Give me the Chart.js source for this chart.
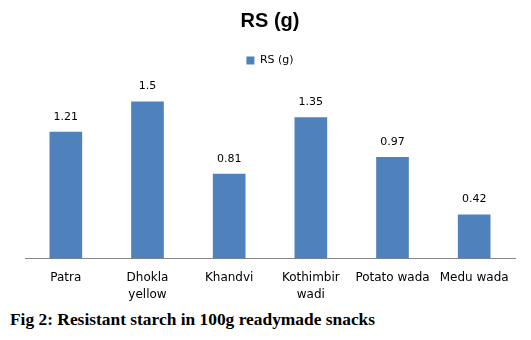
<!DOCTYPE html>
<html>
<head>
<meta charset="utf-8">
<script src="https://cdn.jsdelivr.net/npm/chart.js@4/dist/chart.umd.min.js"></script>
<style>
  body { margin: 0; background: #fff; }
  #wrap { position: relative; width: 531px; height: 340px; }
  #box { position: absolute; left: 0; top: 0; width: 531px; height: 306px; }
  #caption {
    position: absolute; left: 10px; top: 309px;
    font-family: "Liberation Serif", serif; font-weight: bold; font-size: 17.4px; color: #000;
  }
</style>
</head>
<body>
<div id="wrap">
  <div id="box"><canvas id="chart"></canvas></div>
  <div id="caption">Fig 2: Resistant starch in 100g readymade snacks</div>
</div>
<script>
// Categories and values
const categories = [['Patra'], ['Dhokla', 'yellow'], ['Khandvi'], ['Kothimbir', 'wadi'], ['Potato wada'], ['Medu wada']];
const rsValues = [1.21, 1.5, 0.81, 1.35, 0.97, 0.42];
const seriesName = 'RS (g)';

const barColor = '#4F81BD';
const textColor = '#000000';
const fontFamily = '"DejaVu Sans", Verdana, sans-serif';

// Value labels above each bar
const valueLabels = {
  id: 'valueLabels',
  afterDatasetsDraw(chart) {
    const { ctx } = chart;
    const meta = chart.getDatasetMeta(0);
    ctx.save();
    ctx.font = '11px ' + fontFamily;
    ctx.fillStyle = textColor;
    ctx.textAlign = 'center';
    ctx.textBaseline = 'middle';
    meta.data.forEach((bar, i) => {
      ctx.fillText(String(rsValues[i]), bar.x, bar.y - 15);
    });
    ctx.restore();
  }
};

// Extra room under the legend, like the original
const legendGap = {
  id: 'legendGap',
  beforeInit(chart) {
    const fit = chart.legend.fit;
    chart.legend.fit = function() {
      fit.call(this);
      this.height += 15;
    };
  }
};

const ctx = document.getElementById('chart');
new Chart(ctx, {
  type: 'bar',
  data: {
    labels: categories,
    datasets: [
      {
        label: seriesName,
        data: rsValues,
        backgroundColor: barColor,
        borderWidth: 0,
        categoryPercentage: 1,
        barPercentage: 0.4,
      },
    ],
  },
  options: {
    responsive: true,
    maintainAspectRatio: false,
    animation: false,
    layout: {
      padding: { left: 25, right: 16, top: 9, bottom: 0 },
    },
    scales: {
      y: {
        display: false,
        min: 0,
        max: 1.6,
      },
      x: {
        grid: { display: false },
        border: { display: true, color: '#868686', width: 1 },
        ticks: {
          color: textColor,
          font: { family: fontFamily, size: 12, lineHeight: 1.4 },
          maxRotation: 0,
          autoSkip: false,
          padding: 3,
        },
      },
    },
    plugins: {
      title: {
        display: true,
        text: seriesName,
        color: textColor,
        font: { family: '"Liberation Sans", Arial, sans-serif', size: 20, weight: 'bold' },
        padding: { top: 0, bottom: 10 },
      },
      legend: {
        display: true,
        labels: {
          color: textColor,
          font: { family: fontFamily, size: 11 },
          boxWidth: 8,
          boxHeight: 8,
          padding: 12,
        },
      },
      tooltip: { enabled: false },
    },
  },
  plugins: [valueLabels, legendGap],
});
</script>
</body>
</html>
